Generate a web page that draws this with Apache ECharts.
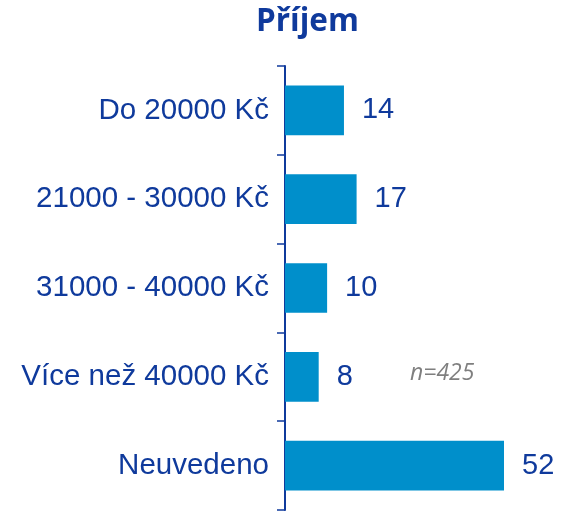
<!DOCTYPE html>
<html>
<head>
<meta charset="utf-8">
<script src="https://cdn.jsdelivr.net/npm/echarts@6/dist/echarts.min.js"></script>
<style>
  html, body { margin: 0; padding: 0; background: #fff; }
  #chart { width: 569px; height: 513px; }
</style>
</head>
<body>
<div id="chart"></div>
<script>
// data
const categories = ['Do 20000 Kč', '21000 - 30000 Kč', '31000 - 40000 Kč', 'Více než 40000 Kč', 'Neuvedeno']
const values = [14, 17, 10, 8, 52]
const sampleNote = 'n=425'

const blue = '#0F3A9C'

const chart = echarts.init(document.getElementById('chart'))
chart.setOption({
  animation: false,
  title: {
    text: 'Příjem',
    left: 251,
    top: 1,
    textStyle: { fontFamily: 'Open Sans', fontWeight: 'bold', fontSize: 31.5, color: blue }
  },
  grid: { left: 285, top: 66, width: 219, bottom: 3 },
  xAxis: {
    type: 'value',
    min: 0,
    max: 52,
    show: false
  },
  yAxis: {
    type: 'category',
    inverse: true,
    data: categories,
    axisLine: { show: true, lineStyle: { color: blue, width: 2 } },
    axisTick: { show: true, length: 8, lineStyle: { color: blue, width: 1.5 } },
    axisLabel: { fontFamily: 'Liberation Sans', fontSize: 29.5, color: blue, margin: 16 }
  },
  series: [{
    type: 'bar',
    data: values,
    barCategoryGap: '44%',
    itemStyle: { color: '#008FCB' },
    label: {
      show: true,
      position: 'right',
      distance: 18,
      fontFamily: 'Liberation Sans',
      fontSize: 29,
      color: blue
    }
  }],
  graphic: [{
    type: 'text',
    left: 410,
    top: 362,
    style: {
      text: sampleNote,
      fontFamily: 'Open Sans',
      fontStyle: 'italic',
      fontSize: 23,
      fill: '#7F7F7F'
    }
  }]
})
</script>
</body>
</html>
